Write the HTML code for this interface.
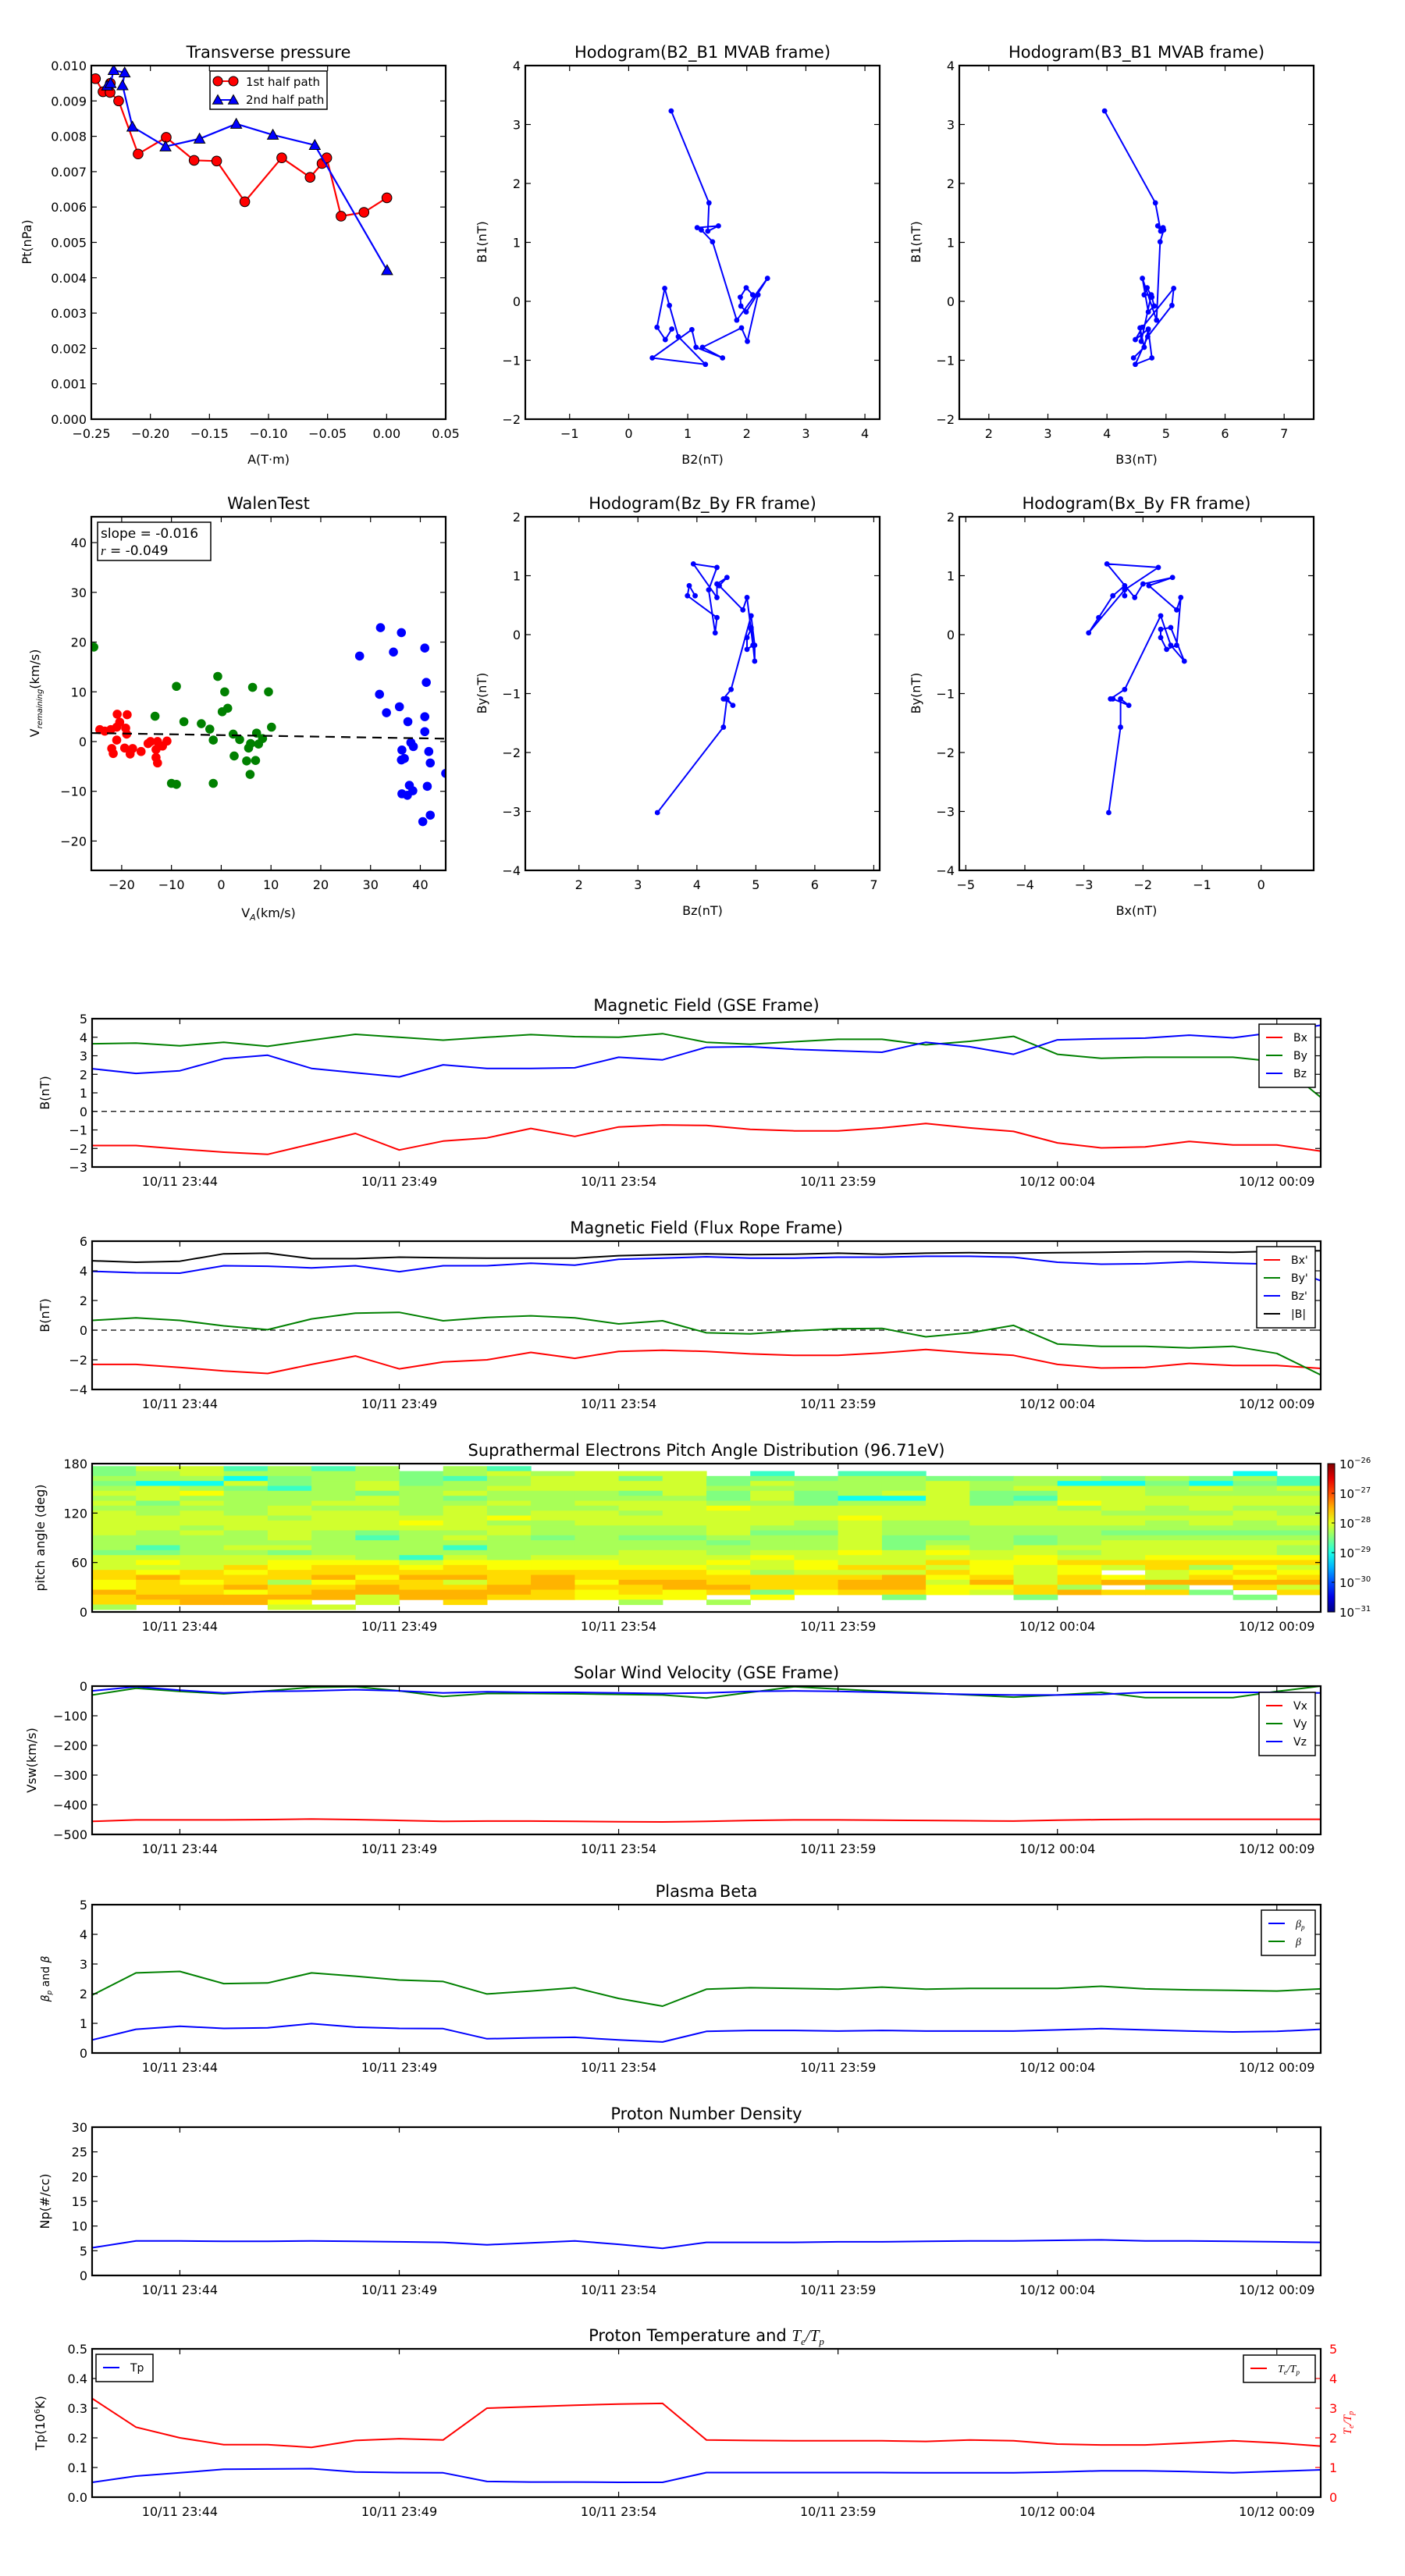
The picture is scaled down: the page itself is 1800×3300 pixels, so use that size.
<!DOCTYPE html>
<html><head><meta charset="utf-8"><title>Flux rope analysis</title>
<style>
html,body{margin:0;padding:0;background:#fff;}
svg{display:block;font-family:"DejaVu Sans","Liberation Sans",sans-serif;}
</style></head>
<body>
<svg id="fig" xmlns="http://www.w3.org/2000/svg" width="1800" height="3300" viewBox="0 0 1800 3300"></svg>
<script>
// ---------- DATA ----------
const ptA1 = [-0.2465,-0.2401,-0.2339,-0.2341,-0.2269,-0.2104,-0.1866,-0.163,-0.1439,-0.1201,-0.0888,-0.0648,-0.0547,-0.0507,-0.0386,-0.0192,0.0002];
const ptP1 = [0.00963,0.00926,0.0095,0.00924,0.009,0.0075,0.00797,0.00732,0.0073,0.00615,0.00739,0.00684,0.00723,0.00739,0.00574,0.00585,0.00626];
const ptA2 = [-0.2366,-0.2337,-0.2311,-0.2218,-0.2236,-0.2152,-0.1872,-0.1584,-0.1273,-0.0963,-0.0608,0.0004];
const ptP2 = [0.00943,0.0095,0.00987,0.0098,0.00944,0.00827,0.00771,0.00793,0.00835,0.00804,0.00775,0.00421];

const b1 = [3.23,1.67,1.19,1.28,1.25,1.21,1.01,-0.32,0.39,-0.18,-0.08,0.07,0.23,0.11,0.11,-0.68,-0.45,-0.78,-0.96,-0.78,-0.48,-0.96,-1.07,-0.6,-0.07,0.22,-0.44,-0.65,-0.47];
const b2 = [0.72,1.36,1.34,1.52,1.16,1.23,1.42,1.83,2.35,1.99,1.9,1.89,1.99,2.1,2.19,2.01,1.91,1.25,1.59,1.14,1.07,0.4,1.3,0.84,0.69,0.61,0.48,0.62,0.73];
const b3 = [3.96,4.82,4.91,4.86,4.95,4.96,4.9,4.84,4.6,4.7,4.8,4.76,4.68,4.63,4.75,4.58,4.56,4.63,4.45,4.63,4.7,4.76,4.48,4.69,5.1,5.13,4.6,4.48,4.7];

const walenRedX = [-24.4,-23.4,-22.2,-20.9,-18.9,-20.4,-21.0,-19.2,-19.0,-21.0,-22.0,-21.7,-19.4,-18.3,-17.8,-16.1,-14.7,-14.2,-12.8,-13.1,-13.1,-12.8,-11.8,-10.9];
const walenRedY = [2.4,2.1,2.4,5.5,5.4,3.9,2.9,2.7,1.5,0.3,-1.4,-2.4,-1.3,-2.5,-1.4,-2.0,-0.4,0,0,-1.6,-3.2,-4.3,-0.9,0.1];
const walenGreenX = [-25.6,-9.0,-13.3,-7.5,-10.0,-9.0,-4.0,-2.3,-1.6,-1.6,-0.7,0.7,0.2,1.3,2.4,2.6,3.7,5.1,5.8,5.5,5.9,6.3,6.9,7.1,7.5,8.3,9.5,10.1];
const walenGreenY = [19.0,11.1,5.1,4.0,-8.4,-8.6,3.6,2.5,0.3,-8.4,13.1,10.0,6.0,6.7,1.5,-2.9,0.4,-3.9,-6.6,-1.3,-0.4,10.9,-3.8,1.7,-0.5,0.6,10.0,2.9];
const walenBlueX = [27.8,32.0,31.8,33.2,34.6,35.8,36.2,36.3,36.2,36.8,36.3,37.4,37.8,38.5,37.5,38.1,38.6,40.9,41.2,40.9,40.9,41.7,42.0,41.4,40.5,42.0,45.1];
const walenBlueY = [17.2,22.9,9.5,5.8,18.0,7.0,21.9,-1.7,-3.7,-3.4,-10.5,-10.8,-8.8,-9.9,4.0,-0.2,-1.0,18.8,11.9,5.0,2.0,-2.0,-4.3,-9.0,-16.1,-14.8,-6.4];
const walenSlope = -0.016;
const walenIntercept = 1.3;

const timeTickIdx = [2,7,12,17,22,27];
const timeTickLabels = ["10/11 23:44","10/11 23:49","10/11 23:54","10/11 23:59","10/12 00:04","10/12 00:09"];

const gseBx = [-1.84,-1.84,-2.03,-2.2,-2.32,-1.76,-1.19,-2.08,-1.6,-1.43,-0.92,-1.35,-0.84,-0.73,-0.76,-0.97,-1.05,-1.05,-0.89,-0.65,-0.89,-1.08,-1.7,-1.97,-1.92,-1.62,-1.81,-1.81,-2.14];
const gseBy = [3.65,3.68,3.54,3.73,3.51,3.84,4.16,4.0,3.84,4.0,4.14,4.03,4.0,4.19,3.73,3.62,3.76,3.89,3.89,3.59,3.78,4.05,3.08,2.86,2.92,2.92,2.92,2.68,0.76];
const gseBz = [2.3,2.05,2.19,2.84,3.03,2.32,2.08,1.86,2.51,2.32,2.32,2.35,2.92,2.78,3.46,3.49,3.35,3.27,3.19,3.73,3.49,3.08,3.86,3.92,3.95,4.11,3.97,4.27,4.65];

const frBx = [-2.31,-2.31,-2.51,-2.75,-2.92,-2.31,-1.74,-2.61,-2.14,-2.0,-1.5,-1.9,-1.43,-1.36,-1.43,-1.6,-1.7,-1.7,-1.53,-1.3,-1.53,-1.7,-2.31,-2.55,-2.51,-2.24,-2.38,-2.38,-2.58];
const frBy = [0.66,0.83,0.66,0.29,0.03,0.76,1.14,1.2,0.63,0.86,0.97,0.83,0.42,0.63,-0.18,-0.25,-0.05,0.09,0.12,-0.45,-0.18,0.32,-0.93,-1.09,-1.09,-1.2,-1.09,-1.57,-3.02];
const frBz = [3.97,3.87,3.84,4.34,4.31,4.2,4.34,3.94,4.34,4.34,4.51,4.38,4.78,4.85,4.95,4.85,4.85,4.92,4.92,4.98,4.98,4.92,4.58,4.45,4.48,4.61,4.51,4.45,3.33];
const frBt = [4.68,4.58,4.65,5.15,5.19,4.82,4.82,4.92,4.88,4.85,4.85,4.85,5.02,5.09,5.15,5.09,5.12,5.19,5.12,5.19,5.22,5.19,5.22,5.25,5.29,5.29,5.25,5.32,5.36];

// PAD: log10 flux levels per code digit ('.' = no data); rows from 174 deg down to 6 deg, 28 one-minute columns
const padLevelValues = [-29.25,-29.05,-28.85,-28.75,-28.5,-28.3,-28.1,-27.9,-27.7,-27.5];
const padRowAngles = [174,168,162,156,150,144,138,132,126,120,114,108,102,96,90,84,78,72,66,60,54,48,42,36,30,24,18,12,6];
const padRows = [
"4663535.53..................",
"45655554565666.2.33.......1.",
"5551455435664644455445545453.",
"41164564556666465556551141434",
"56542565566666555556566656565",
"66755545655546464566446655555",
"56555565455555464116436666665",
"64655665565666554556457666666",
"55556555655566766666665656555",
"65656665656656666666666555656",
"66665666676666666766666666666",
"66666667655666665655666656566",
"66566666665555655655555555555",
"65656545565555644655555444446",
"55556535654544555644545555556",
"55555555555555455645545666666",
"53566555255555555646566666656",
"44554555555566566767665666656",
"66666652656666676666676677776",
"67667776777766767668778888888",
"66687887877777667886767685767",
"87878888888888756668767.67877",
"89888979989888888897868768787",
"78785788689799888996968999998",
"78898898899889988997785 5.8677",
"98878999998787847887689884 8.",
"89999969988777.7..4..4....4.",
"88997 6.8...5.5..............",
"5...66......................"
];

const swVx = [-456,-451,-451,-451,-450,-448,-450,-453,-456,-455,-455,-456,-457,-458,-456,-453,-451,-451,-452,-453,-454,-455,-452,-450,-449,-449,-449,-449,-449];
const swVy = [-30,-7,-18,-26,-16,-4,-2,-16,-35,-25,-25,-26,-28,-30,-40,-21,-2,-10,-18,-23,-30,-37,-30,-21,-39,-39,-39,-18,0];
const swVz = [-16,-2,-14,-23,-18,-16,-12,-16,-23,-19,-21,-21,-23,-25,-23,-18,-16,-18,-21,-25,-28,-30,-30,-28,-21,-21,-21,-21,-23];

const betaTotal = [1.95,2.7,2.75,2.34,2.36,2.7,2.59,2.46,2.41,1.99,2.09,2.2,1.84,1.58,2.15,2.2,2.18,2.15,2.22,2.15,2.18,2.18,2.18,2.25,2.16,2.13,2.11,2.09,2.16];
const betaP = [0.44,0.8,0.9,0.83,0.85,0.99,0.87,0.83,0.82,0.48,0.51,0.53,0.44,0.37,0.73,0.76,0.76,0.74,0.76,0.74,0.74,0.74,0.78,0.82,0.78,0.74,0.71,0.73,0.8];

const np = [5.6,7.0,7.0,6.9,6.9,7.0,6.9,6.8,6.7,6.2,6.6,7.0,6.3,5.5,6.7,6.7,6.7,6.8,6.8,6.9,7.0,7.0,7.1,7.2,7.0,7.0,6.9,6.8,6.7];

const tp = [0.05,0.071,0.082,0.094,0.095,0.096,0.085,0.083,0.082,0.053,0.051,0.051,0.05,0.05,0.083,0.083,0.083,0.083,0.083,0.082,0.082,0.082,0.085,0.089,0.089,0.086,0.082,0.087,0.092];
const teTp = [3.33,2.36,2.0,1.77,1.77,1.68,1.91,1.97,1.93,3.0,3.05,3.1,3.14,3.16,1.93,1.91,1.9,1.9,1.9,1.88,1.93,1.9,1.79,1.76,1.76,1.83,1.9,1.83,1.72];

// ---------- DRAWING ----------
const NS = "http://www.w3.org/2000/svg";
const fig = document.getElementById('fig');
function el(tag, attrs, parent, name, inter) {
  const e = document.createElementNS(NS, tag);
  for (const k in attrs) e.setAttribute(k, attrs[k]);
  
  
  (parent || fig).appendChild(e);
  return e;
}
function txt(x, y, s, size, anchor, parent, name, extra) {
  const a = Object.assign({x: x, y: y, 'font-size': size, 'text-anchor': anchor || 'middle', fill: '#000'}, extra || {});
  const t = el('text', a, parent, name);
  t.textContent = s;
  return t;
}
function mfmt(v, d) { const s = v.toFixed(d); return s.replace('-', '\u2212'); }

function makeAxes(o) {
  const g = el('g', {}, fig, o.name);
  const sx = v => o.x + (v - o.xmin) / (o.xmax - o.xmin) * o.w;
  const sy = v => o.y + o.h - (v - o.ymin) / (o.ymax - o.ymin) * o.h;
  const clipId = 'clip-' + o.name;
  const cp = el('clipPath', {id: clipId}, g, o.name + '-clip');
  el('rect', {x: o.x, y: o.y, width: o.w, height: o.h}, cp, o.name + '-clip-rect');
  const plot = el('g', {'clip-path': 'url(#' + clipId + ')'}, g, o.name + '-plot-area');
  return {g, plot, sx, sy, o};
}
function finishAxes(A, xt, xl, yt, yl) {
  const o = A.o, g = A.g;
  const tk = 7;
  (xt || []).forEach((v, i) => {
    const X = A.sx(v);
    el('line', {x1: X, y1: o.y + o.h, x2: X, y2: o.y + o.h - tk, stroke: '#000', 'stroke-width': 1.2}, g, 'x-tick');
    el('line', {x1: X, y1: o.y, x2: X, y2: o.y + tk, stroke: '#000', 'stroke-width': 1.2}, g, 'x-tick-top');
    txt(X, o.y + o.h + 24, xl[i], 16, 'middle', g, 'x-tick-label');
  });
  (yt || []).forEach((v, i) => {
    const Y = A.sy(v);
    el('line', {x1: o.x, y1: Y, x2: o.x + tk, y2: Y, stroke: '#000', 'stroke-width': 1.2}, g, 'y-tick');
    el('line', {x1: o.x + o.w, y1: Y, x2: o.x + o.w - tk, y2: Y, stroke: o.rightColor || '#000', 'stroke-width': 1.2}, g, 'y-tick-right');
    txt(o.x - 6, Y + 6, yl[i], 16, 'end', g, 'y-tick-label');
  });
  el('rect', {x: o.x, y: o.y, width: o.w, height: o.h, fill: 'none', stroke: '#000', 'stroke-width': 2.2}, g, o.name + '-frame');
  if (o.title) txt(o.x + o.w / 2, o.y - 10, o.title, 21, 'middle', g, o.name + '-title');
}
function polyline(A, xs, ys, color, name, w) {
  const pts = xs.map((v, i) => A.sx(v).toFixed(1) + ',' + A.sy(ys[i]).toFixed(1)).join(' ');
  return el('polyline', {points: pts, fill: 'none', stroke: color, 'stroke-width': w || 2, 'stroke-linejoin': 'round'}, A.plot, name);
}
function dots(A, xs, ys, color, r, name, stroke) {
  xs.forEach((v, i) => {
    el('circle', {cx: A.sx(v), cy: A.sy(ys[i]), r: r, fill: color, stroke: stroke || 'none', 'stroke-width': 1}, A.plot, name);
  });
}
function tri(cx, cy, s, parent, name) {
  return el('polygon', {points: `${cx},${cy - s} ${cx - s},${cy + s * 0.8} ${cx + s},${cy + s * 0.8}`, fill: '#0000ff', stroke: '#000', 'stroke-width': 1}, parent, name);
}
function rotLabel(x, y, s, parent, name, size) {
  return txt(x, y, s, size || 16, 'middle', parent, name, {transform: `rotate(-90 ${x} ${y})`});
}
function range(a, b, s) { const r = []; for (let v = a; v <= b + 1e-9; v += s) r.push(+v.toFixed(6)); return r; }

// ----- Transverse pressure -----
(function () {
  const A = makeAxes({name: 'transverse-pressure-chart', x: 117, y: 84, w: 454, h: 453, xmin: -0.25, xmax: 0.05, ymin: 0, ymax: 0.01, title: 'Transverse pressure'});
  polyline(A, ptA1, ptP1, '#ff0000', 'first-half-path-line', 2.2);
  dots(A, ptA1, ptP1, '#ff0000', 6.3, 'first-half-marker', '#000');
  polyline(A, ptA2, ptP2, '#0000ff', 'second-half-path-line', 2.2);
  ptA2.forEach((v, i) => tri(A.sx(v), A.sy(ptP2[i]), 7, A.plot, 'second-half-marker'));
  const xt = range(-0.25, 0.05, 0.05), yt = range(0, 0.01, 0.001);
  finishAxes(A, xt, xt.map(v => mfmt(v, 2)), yt, yt.map(v => mfmt(v, 3)));
  const lg = el('g', {}, A.g, 'pressure-legend');
  el('rect', {x: 269, y: 91, width: 150, height: 49, fill: '#fff', stroke: '#000', 'stroke-width': 1.5}, lg, 'legend-box');
  el('line', {x1: 279, y1: 104, x2: 299, y2: 104, stroke: '#ff0000', 'stroke-width': 2}, lg, 'legend-line-first');
  el('circle', {cx: 279, cy: 104, r: 6, fill: '#ff0000', stroke: '#000'}, lg, 'legend-marker-first');
  el('circle', {cx: 299, cy: 104, r: 6, fill: '#ff0000', stroke: '#000'}, lg, 'legend-marker-first');
  txt(315, 110, '1st half path', 15, 'start', lg, 'legend-entry-first-half');
  el('line', {x1: 279, y1: 128, x2: 299, y2: 128, stroke: '#0000ff', 'stroke-width': 2}, lg, 'legend-line-second');
  tri(279, 128, 6.5, lg, 'legend-marker-second');
  tri(299, 128, 6.5, lg, 'legend-marker-second');
  txt(315, 133, '2nd half path', 15, 'start', lg, 'legend-entry-second-half');
  rotLabel(40, 310, 'Pt(nPa)', A.g, 'y-axis-title');
  txt(344, 594, 'A(T\u00b7m)', 16, 'middle', A.g, 'x-axis-title');
})();

function hodo(name, title, x0, y0, xs, ys, xr, yr, xt, yt, xlab, ylab) {
  const A = makeAxes({name: name, x: x0, y: y0, w: 454, h: 453, xmin: xr[0], xmax: xr[1], ymin: yr[0], ymax: yr[1], title: title});
  polyline(A, xs, ys, '#0000ff', 'hodogram-path', 2);
  dots(A, xs, ys, '#0000ff', 3.4, 'hodogram-point');
  finishAxes(A, xt, xt.map(v => mfmt(v, 0)), yt, yt.map(v => mfmt(v, 0)));
  rotLabel(x0 - 50, y0 + 226, ylab, A.g, 'y-axis-title');
  txt(x0 + 227, y0 + 510, xlab, 16, 'middle', A.g, 'x-axis-title');
}
hodo('hodogram-b2-b1', 'Hodogram(B2_B1 MVAB frame)', 673, 84, b2, b1, [-1.75, 4.25], [-2, 4], range(-1, 4, 1), range(-2, 4, 1), 'B2(nT)', 'B1(nT)');
hodo('hodogram-b3-b1', 'Hodogram(B3_B1 MVAB frame)', 1229, 84, b3, b1, [1.5, 7.5], [-2, 4], range(2, 7, 1), range(-2, 4, 1), 'B3(nT)', 'B1(nT)');
hodo('hodogram-bz-by', 'Hodogram(Bz_By FR frame)', 673, 662, frBz, frBy, [1.09, 7.1], [-4, 2], range(2, 7, 1), range(-4, 2, 1), 'Bz(nT)', 'By(nT)');
hodo('hodogram-bx-by', 'Hodogram(Bx_By FR frame)', 1229, 662, frBx, frBy, [-5.11, 0.89], [-4, 2], range(-5, 0, 1), range(-4, 2, 1), 'Bx(nT)', 'By(nT)');

// ----- Walen test -----
(function () {
  const A = makeAxes({name: 'walen-test-chart', x: 117, y: 662, w: 454, h: 453, xmin: -26.1, xmax: 45.1, ymin: -25.9, ymax: 45.2, title: 'WalenTest'});
  dots(A, walenRedX, walenRedY, '#ff0000', 5.8, 'walen-point-red');
  dots(A, walenGreenX, walenGreenY, '#008000', 5.8, 'walen-point-green');
  dots(A, walenBlueX, walenBlueY, '#0000ff', 5.8, 'walen-point-blue');
  el('line', {x1: A.sx(-26.1), y1: A.sy(walenIntercept + walenSlope * -26.1), x2: A.sx(45.1), y2: A.sy(walenIntercept + walenSlope * 45.1), stroke: '#000', 'stroke-width': 2.2, 'stroke-dasharray': '12,8'}, A.plot, 'walen-fit-line');
  const xt = range(-20, 40, 10), yt = range(-20, 40, 10);
  finishAxes(A, xt, xt.map(v => mfmt(v, 0)), yt, yt.map(v => mfmt(v, 0)));
  el('rect', {x: 125, y: 669, width: 145, height: 49, fill: '#fff', stroke: '#000', 'stroke-width': 1.5}, A.g, 'walen-stats-box');
  txt(129, 689, 'slope = -0.016', 17, 'start', A.g, 'walen-slope-text');
  const r = txt(129, 711, '', 17, 'start', A.g, 'walen-r-text');
  r.innerHTML = '<tspan font-style="italic" font-family="Liberation Serif, serif">r</tspan> = -0.049';
  const yl = rotLabel(50, 888, '', A.g, 'y-axis-title');
  yl.innerHTML = 'V<tspan font-size="10" font-style="italic" dy="4">remaining</tspan><tspan dy="-4">(km/s)</tspan>';
  const xl = txt(344, 1175, '', 16, 'middle', A.g, 'x-axis-title');
  xl.innerHTML = 'V<tspan font-size="11" font-style="italic" dy="4">A</tspan><tspan dy="-4">(km/s)</tspan>';
})();

// ----- Time series -----
const TX0 = 118, TW = 1574, NT = 28;
function timeAxes(name, y0, ymin, ymax, title) {
  return makeAxes({name: name, x: TX0, y: y0, w: TW, h: 190, xmin: 0, xmax: NT, ymin: ymin, ymax: ymax, title: title});
}
const tIdx = gseBx.map((v, i) => i);
function finishTime(A, yt, yl, dec) {
  finishAxes(A, timeTickIdx, timeTickLabels, yt, yt.map(v => mfmt(v, dec || 0)));
}
function legend(parent, x, y, w, entries, name) {
  const g = el('g', {}, parent, name);
  el('rect', {x: x, y: y, width: w, height: entries.length * 23 + 12, fill: '#fff', stroke: '#000', 'stroke-width': 1.5}, g, 'legend-box');
  entries.forEach((e, i) => {
    const yy = y + 17 + i * 23;
    el('line', {x1: x + 9, y1: yy, x2: x + 30, y2: yy, stroke: e[1], 'stroke-width': 2}, g, 'legend-swatch');
    const t = txt(x + 44, yy + 5, '', 14, 'start', g, 'legend-entry');
    t.innerHTML = e[0];
  });
  return g;
}

(function () {
  const A = timeAxes('gse-magnetic-field-chart', 1305, -3, 5, 'Magnetic Field (GSE Frame)');
  el('line', {x1: TX0, y1: A.sy(0), x2: TX0 + TW, y2: A.sy(0), stroke: '#000', 'stroke-width': 1.3, 'stroke-dasharray': '7,5'}, A.plot, 'zero-line');
  polyline(A, tIdx, gseBx, '#ff0000', 'bx-line');
  polyline(A, tIdx, gseBy, '#008000', 'by-line');
  polyline(A, tIdx, gseBz, '#0000ff', 'bz-line');
  finishTime(A, range(-3, 5, 1));
  legend(A.g, 1613, 1312, 72, [['Bx', '#ff0000'], ['By', '#008000'], ['Bz', '#0000ff']], 'gse-legend');
  rotLabel(63, 1400, 'B(nT)', A.g, 'y-axis-title');
})();

(function () {
  const A = timeAxes('flux-rope-magnetic-field-chart', 1590, -4, 6, 'Magnetic Field (Flux Rope Frame)');
  el('line', {x1: TX0, y1: A.sy(0), x2: TX0 + TW, y2: A.sy(0), stroke: '#000', 'stroke-width': 1.3, 'stroke-dasharray': '7,5'}, A.plot, 'zero-line');
  polyline(A, tIdx, frBx, '#ff0000', 'bx-prime-line');
  polyline(A, tIdx, frBy, '#008000', 'by-prime-line');
  polyline(A, tIdx, frBz, '#0000ff', 'bz-prime-line');
  polyline(A, tIdx, frBt, '#000000', 'b-magnitude-line');
  finishTime(A, range(-4, 6, 2));
  legend(A.g, 1610, 1597, 75, [["Bx'", '#ff0000'], ["By'", '#008000'], ["Bz'", '#0000ff'], ['|B|', '#000']], 'flux-rope-legend');
  rotLabel(63, 1685, 'B(nT)', A.g, 'y-axis-title');
})();

function jet(f) {
  const c = v => Math.round(255 * Math.max(0, Math.min(1, v)));
  return `rgb(${c(1.5 - Math.abs(4 * f - 3))},${c(1.5 - Math.abs(4 * f - 2))},${c(1.5 - Math.abs(4 * f - 1))})`;
}
(function () {
  const A = timeAxes('pitch-angle-distribution-chart', 1875, 0, 180, 'Suprathermal Electrons Pitch Angle Distribution (96.71eV)');
  padRows.forEach((row, r) => {
    for (let c = 0; c < NT; c++) {
      const ch = row[c];
      if (ch === undefined || ch === '.' || ch === ' ') continue;
      const v = padLevelValues[+ch];
      const f = (v + 31) / 5;
      const x1 = A.sx(c), x2 = A.sx(c + 1), y1 = A.sy(padRowAngles[r] + 3), y2 = A.sy(padRowAngles[r] - 3);
      el('rect', {x: x1.toFixed(1), y: y1.toFixed(1), width: (x2 - x1 + 0.6).toFixed(1), height: (y2 - y1 + 0.6).toFixed(1), fill: jet(f)}, A.plot, 'pad-cell');
    }
  });
  finishTime(A, range(0, 180, 60));
  rotLabel(57, 1970, 'pitch angle (deg)', A.g, 'y-axis-title');
  // colorbar
  const cb = el('g', {}, fig, 'pad-colorbar');
  const defs = el('defs', {}, cb, 'colorbar-defs');
  const lg = el('linearGradient', {id: 'jetgrad', x1: 0, y1: 1, x2: 0, y2: 0}, defs, 'jet-gradient');
  for (let i = 0; i <= 10; i++) el('stop', {offset: i / 10, 'stop-color': jet(i / 10)}, lg, 'gradient-stop');
  el('rect', {x: 1701, y: 1875, width: 9, height: 190, fill: 'url(#jetgrad)', stroke: '#000', 'stroke-width': 1}, cb, 'colorbar-bar');
  const cbExp = [-26, -27, -28, -29, -30, -31];
  cbExp.forEach((e, k) => {
    const Y = 1875 + k * 38;
    el('line', {x1: 1706, y1: Y, x2: 1710, y2: Y, stroke: '#000'}, cb, 'colorbar-tick');
    const t = txt(1716, Y + 6, '', 15, 'start', cb, 'colorbar-label');
    t.innerHTML = '10<tspan font-size="10" dy="-7">\u2212' + (-e) + '</tspan>';
  });
})();

(function () {
  const A = timeAxes('solar-wind-velocity-chart', 2160, -500, 0, 'Solar Wind Velocity (GSE Frame)');
  polyline(A, tIdx, swVx, '#ff0000', 'vx-line');
  polyline(A, tIdx, swVy, '#008000', 'vy-line');
  polyline(A, tIdx, swVz, '#0000ff', 'vz-line');
  finishTime(A, range(-500, 0, 100));
  legend(A.g, 1613, 2168, 72, [['Vx', '#ff0000'], ['Vy', '#008000'], ['Vz', '#0000ff']], 'velocity-legend');
  rotLabel(46, 2255, 'Vsw(km/s)', A.g, 'y-axis-title');
})();

(function () {
  const A = timeAxes('plasma-beta-chart', 2440, 0, 5, 'Plasma Beta');
  polyline(A, tIdx, betaP, '#0000ff', 'beta-proton-line');
  polyline(A, tIdx, betaTotal, '#008000', 'beta-total-line');
  finishTime(A, range(0, 5, 1));
  legend(A.g, 1616, 2447, 69, [['<tspan font-style="italic" font-family="Liberation Serif, serif">\u03b2<tspan font-size="9" dy="3">p</tspan></tspan>', '#0000ff'], ['<tspan font-style="italic" font-family="Liberation Serif, serif">\u03b2</tspan>', '#008000']], 'beta-legend');
  const yl = rotLabel(63, 2535, '', A.g, 'y-axis-title', 14);
  yl.innerHTML = '<tspan font-style="italic">\u03b2<tspan font-size="9" dy="3">p</tspan></tspan><tspan dy="-3"> and </tspan><tspan font-style="italic">\u03b2</tspan>';
})();

(function () {
  const A = timeAxes('proton-density-chart', 2725, 0, 30, 'Proton Number Density');
  polyline(A, tIdx, np, '#0000ff', 'density-line');
  finishTime(A, range(0, 30, 5));
  rotLabel(63, 2820, 'Np(#/cc)', A.g, 'y-axis-title');
})();

(function () {
  const A = makeAxes({name: 'proton-temperature-chart', x: TX0, y: 3009, w: TW, h: 190, xmin: 0, xmax: NT, ymin: 0, ymax: 0.5, rightColor: '#ff0000'});
  const syR = v => 3009 + 190 - v / 5 * 190;
  polyline(A, tIdx, tp, '#0000ff', 'tp-line');
  const pts = teTp.map((v, i) => A.sx(i).toFixed(1) + ',' + syR(v).toFixed(1)).join(' ');
  el('polyline', {points: pts, fill: 'none', stroke: '#ff0000', 'stroke-width': 2}, A.plot, 'te-tp-ratio-line');
  finishTime(A, range(0, 0.5, 0.1), null, 1);
  const tt = txt(905, 2999, '', 21, 'middle', A.g, 'proton-temperature-chart-title');
  tt.innerHTML = 'Proton Temperature and <tspan font-style="italic" font-family="Liberation Serif, serif">T<tspan font-size="13" dy="5">e</tspan><tspan dy="-5">/T</tspan><tspan font-size="13" dy="5">p</tspan></tspan>';
  const rt = range(0, 5, 1);
  rt.forEach(v => { txt(1703, syR(v) + 6, String(v), 16, 'start', A.g, 'right-y-tick-label', {fill: '#ff0000'}); });
  const ry = rotLabel(1731, 3104, '', A.g, 'right-y-axis-title', 15);
  ry.setAttribute('fill', '#ff0000');
  ry.innerHTML = '<tspan font-style="italic" font-family="Liberation Serif, serif">T<tspan font-size="10" dy="3">e</tspan><tspan dy="-3">/T</tspan><tspan font-size="10" dy="3">p</tspan></tspan>';
  const ly = rotLabel(57, 3104, '', A.g, 'y-axis-title');
  ly.innerHTML = 'Tp(10<tspan font-size="10" dy="-6">6</tspan><tspan dy="6">K)</tspan>';
  legend(A.g, 123, 3016, 73, [['Tp', '#0000ff']], 'tp-legend');
  legend(A.g, 1593, 3017, 92, [['<tspan font-style="italic" font-family="Liberation Serif, serif">T<tspan font-size="9" dy="3">e</tspan><tspan dy="-3">/T</tspan><tspan font-size="9" dy="3">p</tspan></tspan>', '#ff0000']], 'te-tp-legend');
})();
</script>
</body></html>
